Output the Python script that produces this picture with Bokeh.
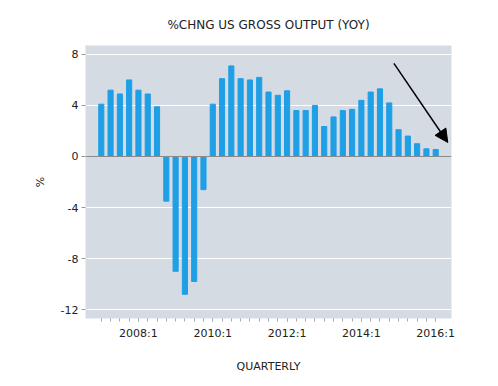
from bokeh.plotting import figure
from bokeh.models import FixedTicker, Range1d, Span, Arrow, NormalHead
from bokeh.embed import file_html
from bokeh.resources import INLINE

quarters = [
    "2007:1", "2007:2", "2007:3", "2007:4",
    "2008:1", "2008:2", "2008:3", "2008:4",
    "2009:1", "2009:2", "2009:3", "2009:4",
    "2010:1", "2010:2", "2010:3", "2010:4",
    "2011:1", "2011:2", "2011:3", "2011:4",
    "2012:1", "2012:2", "2012:3", "2012:4",
    "2013:1", "2013:2", "2013:3", "2013:4",
    "2014:1", "2014:2", "2014:3", "2014:4",
    "2015:1", "2015:2", "2015:3", "2015:4",
    "2016:1",
]
values = [
    4.1, 5.2, 4.9, 6.0,
    5.2, 4.9, 3.9, -3.5,
    -9.0, -10.8, -9.8, -2.6,
    4.1, 6.1, 7.1, 6.1,
    6.0, 6.2, 5.05, 4.8,
    5.15, 3.6, 3.6, 4.0,
    2.35, 3.1, 3.6, 3.7,
    4.4, 5.05, 5.3, 4.2,
    2.1, 1.6, 1.0, 0.6,
    0.55,
]
label_quarters = ["2008:1", "2010:1", "2012:1", "2014:1", "2016:1"]
y_ticks = [-12, -8, -4, 0, 4, 8]
y_tick_labels = ["-12", "-8", "-4", "0", "4", "8"]
title_text = "%CHNG US GROSS OUTPUT (YOY)"

# annotation arrow (data units: quarter index, percent)
arrow_start = (31.5, 7.3)
arrow_end = (37.3, 1.1)

x = list(range(len(quarters)))

p = figure(width=490, height=378, output_backend="svg", toolbar_location=None,
           x_range=Range1d(-1.7, 37.7), y_range=Range1d(-12.7, 8.7),
           min_border_left=85, min_border_right=39, min_border_top=45,
           min_border_bottom=60)

p.background_fill_color = "#d5dbe3"
p.border_fill_color = "white"
p.outline_line_color = None

p.vbar(x=x, top=values, bottom=0, width=0.55, color="#1e9fe6")

zero = Span(location=0, dimension="width", line_color="#8c8c8c", line_width=1)
p.add_layout(zero)

p.title.text = title_text
p.title.align = "center"
p.title.text_font = "DejaVu Sans"
p.title.text_font_size = "12px"
p.title.text_font_style = "normal"
p.title.text_color = "#222222"
p.title.offset = 0
p.title.standoff = 27

# y axis
p.yaxis.ticker = FixedTicker(ticks=y_ticks)
p.yaxis.major_label_overrides = dict(zip(y_ticks, y_tick_labels))
p.yaxis.axis_line_color = None
p.yaxis.major_tick_in = 0
p.yaxis.major_tick_out = 4
p.yaxis.major_tick_line_color = "#999999"
p.yaxis.minor_tick_line_color = None
p.yaxis.major_label_text_font = "DejaVu Sans"
p.yaxis.major_label_text_font_size = "11px"
p.yaxis.major_label_text_color = "#222222"
p.yaxis.major_label_standoff = 3
p.yaxis.axis_label = "%"
p.yaxis.axis_label_text_font = "DejaVu Sans"
p.yaxis.axis_label_text_font_size = "11px"
p.yaxis.axis_label_text_font_style = "normal"
p.yaxis.axis_label_text_color = "#222222"
p.yaxis.axis_label_standoff = 11

# x axis
label_idx = [quarters.index(q) for q in label_quarters]
p.xaxis.ticker = FixedTicker(ticks=label_idx, minor_ticks=x)
p.xaxis.major_label_overrides = {i: quarters[i] for i in label_idx}
p.xaxis.axis_line_color = None
p.xaxis.major_tick_in = 0
p.xaxis.major_tick_out = 3
p.xaxis.minor_tick_in = 0
p.xaxis.minor_tick_out = 3
p.xaxis.major_tick_line_color = "#aaaaaa"
p.xaxis.minor_tick_line_color = "#aaaaaa"
p.xaxis.major_label_text_font = "DejaVu Sans"
p.xaxis.major_label_text_font_size = "11px"
p.xaxis.major_label_text_color = "#222222"
p.xaxis.major_label_standoff = 5
p.xaxis.axis_label = "QUARTERLY"
p.xaxis.axis_label_text_font = "DejaVu Sans"
p.xaxis.axis_label_text_font_size = "11px"
p.xaxis.axis_label_text_font_style = "normal"
p.xaxis.axis_label_text_color = "#222222"
p.xaxis.axis_label_standoff = 17

p.xgrid.grid_line_color = None
p.ygrid.grid_line_color = "white"
p.ygrid.grid_line_width = 1

arrow = Arrow(x_start=arrow_start[0], y_start=arrow_start[1],
              x_end=arrow_end[0], y_end=arrow_end[1],
              line_color="black", line_width=1.5,
              end=NormalHead(size=13, fill_color="black", line_color="black"))
p.add_layout(arrow)

open("out.html", "w").write(file_html(p, INLINE))
